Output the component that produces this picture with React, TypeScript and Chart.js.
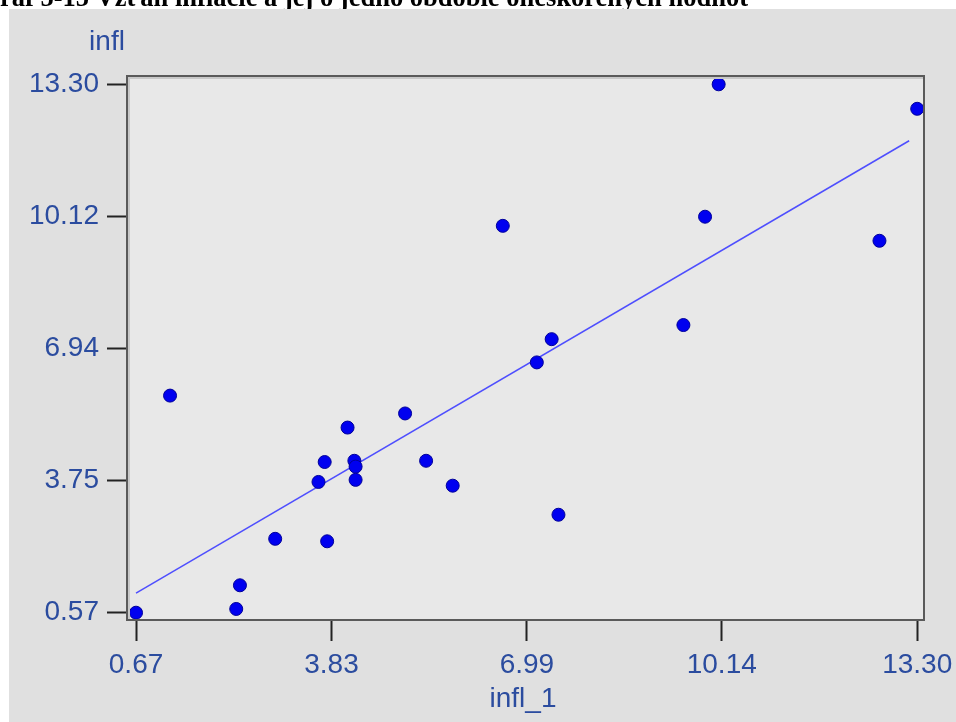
import React, { useEffect, useRef } from "react";
import { Chart, registerables } from "chart.js";

Chart.register(...registerables);

const titleText = "Graf 5-15 Vzťah inflácie a jej o jedno obdobie oneskorených hodnôt";
const xAxisTitle = "infl_1";
const yAxisTitle = "infl";

const inflLag = [0.67, 1.22, 2.29, 2.35, 2.92, 3.76, 3.62, 3.72, 4.09, 4.20, 4.22, 4.22, 5.02, 5.36, 5.79, 6.60, 7.15, 7.39, 7.50, 9.52, 9.87, 10.09, 12.69, 13.30];
const inflNow = [0.57, 5.80, 0.66, 1.23, 2.35, 2.29, 3.72, 4.20, 5.03, 4.23, 4.09, 3.77, 5.37, 4.23, 3.63, 9.89, 6.60, 7.16, 2.93, 7.50, 10.11, 13.30, 9.53, 12.71];

const fitX = [0.67, 13.17];
const fitY = [1.04, 11.94];

const xTicks = [0.67, 3.83, 6.99, 10.14, 13.30];
const yTicks = [0.57, 3.75, 6.94, 10.12, 13.30];

const W = 956;
const H = 722;

export default function App() {
  const ref = useRef<HTMLCanvasElement | null>(null);

  useEffect(() => {
    const canvas = ref.current;
    if (!canvas) return;

    const bgPlugin = {
      id: "bgPlugin",
      beforeDraw(chart: any) {
        const ctx = chart.ctx;
        const a = chart.chartArea;
        ctx.save();
        ctx.fillStyle = "#ffffff";
        ctx.fillRect(0, 0, W, H);
        // title (clipped by the grey panel)
        ctx.fillStyle = "#000000";
        ctx.font = "bold 26.5px 'Liberation Serif', 'Times New Roman', serif";
        ctx.textBaseline = "alphabetic";
        ctx.textAlign = "left";
        const gw = ctx.measureText("G").width;
        ctx.fillText(titleText, -gw, 6);
        // grey panel
        ctx.fillStyle = "#e0e0e0";
        ctx.fillRect(9, 9, W - 9, H - 9);
        // plot area
        ctx.fillStyle = "#e8e8e8";
        ctx.fillRect(a.left, a.top, a.right - a.left, a.bottom - a.top);
        ctx.restore();
      },
      afterDraw(chart: any) {
        const ctx = chart.ctx;
        const a = chart.chartArea;
        ctx.save();
        ctx.strokeStyle = "#c8c8c8";
        ctx.lineWidth = 2;
        ctx.strokeRect(a.left + 2, a.top + 2, a.right - a.left - 2, a.bottom - a.top - 2);
        ctx.strokeStyle = "#5a5a5a";
        ctx.lineWidth = 2;
        ctx.strokeRect(a.left, a.top, a.right - a.left, a.bottom - a.top);
        // axis titles
        ctx.fillStyle = "#2b4c9f";
        ctx.font = "28px 'Liberation Sans', Arial, sans-serif";
        ctx.textAlign = "center";
        ctx.textBaseline = "middle";
        ctx.fillText(yAxisTitle, 107, 42);
        ctx.fillText(xAxisTitle, 523, 699);
        ctx.restore();
      },
    };

    const chart = new Chart(canvas, {
      type: "scatter",
      data: {
        datasets: [
          {
            label: "infl",
            data: inflLag.map((x, i) => ({ x, y: inflNow[i] })),
            backgroundColor: "#0000f0",
            borderColor: "#00009a",
            borderWidth: 1,
            pointRadius: 6.5,
            pointHoverRadius: 6.5,
          },
          {
            type: "line",
            label: "fit",
            data: fitX.map((x, i) => ({ x, y: fitY[i] })),
            borderColor: "rgba(70,70,255,0.95)",
            borderWidth: 1.5,
            pointRadius: 0,
            fill: false,
            showLine: true,
          } as any,
        ],
      },
      options: {
        animation: false,
        responsive: false,
        devicePixelRatio: 1,
        layout: { padding: { left: 0, top: 76, right: W - 924, bottom: 0 } },
        plugins: {
          legend: { display: false },
          tooltip: { enabled: false },
          title: { display: false },
        },
        scales: {
          x: {
            type: "linear",
            min: 0.524,
            max: 13.41,
            afterFit(scale: any) {
              scale.height = H - 620;
              scale.paddingLeft = 0;
              scale.paddingRight = 0;
            },
            afterBuildTicks(scale: any) {
              scale.ticks = xTicks.map((v) => ({ value: v }));
            },
            ticks: {
              autoSkip: false,
              maxRotation: 0,
              padding: 7,
              color: "#2b4c9f",
              font: { size: 28, family: "'Liberation Sans', Arial, sans-serif" },
              callback: (v: any) => Number(v).toFixed(2),
            },
            grid: {
              display: true,
              drawOnChartArea: false,
              drawTicks: true,
              tickLength: 21,
              tickColor: "#222222",
              tickWidth: 2,
            },
            border: { display: false },
          },
          y: {
            type: "linear",
            min: 0.394,
            max: 13.5,
            afterFit(scale: any) {
              scale.width = 127;
              scale.paddingTop = 0;
              scale.paddingBottom = 0;
            },
            afterBuildTicks(scale: any) {
              scale.ticks = yTicks.map((v) => ({ value: v }));
            },
            ticks: {
              autoSkip: false,
              padding: 8,
              color: "#2b4c9f",
              font: { size: 28, family: "'Liberation Sans', Arial, sans-serif" },
              callback: (v: any) => Number(v).toFixed(2),
            },
            grid: {
              display: true,
              drawOnChartArea: false,
              drawTicks: true,
              tickLength: 20,
              tickColor: "#222222",
              tickWidth: 2,
            },
            border: { display: false },
          },
        },
      },
      plugins: [bgPlugin],
    });

    return () => chart.destroy();
  }, []);

  return (
    <div style={{ position: "fixed", left: 0, top: 0, width: W, height: H, overflow: "hidden", background: "#fff" }}>
      <canvas ref={ref} width={W} height={H} style={{ display: "block", width: W, height: H }} />
    </div>
  );
}
